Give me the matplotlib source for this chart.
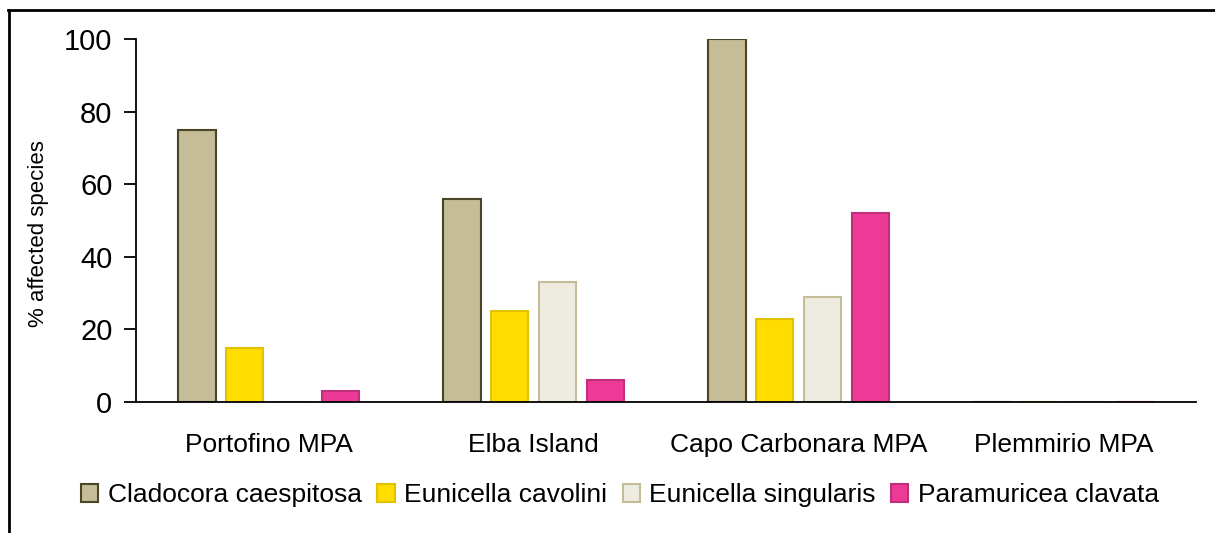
import numpy as np
import matplotlib
matplotlib.use("Agg")
import matplotlib.pyplot as plt
from matplotlib.lines import Line2D

sites = ["Portofino MPA", "Elba Island", "Capo Carbonara MPA", "Plemmirio MPA"]
species = ["Cladocora caespitosa", "Eunicella cavolini", "Eunicella singularis", "Paramuricea clavata"]
cladocora = [75, 56, 100, 0]
cavolini = [15, 25, 23, 0]
singularis = [0, 33, 29, 0]
paramuricea = [3, 6, 52, 0]

fills = ["#C4BD97", "#FFDD00", "#EEECE1", "#EC3A96"]
edges = ["#4A4526", "#E0C200", "#C4BD97", "#C0307A"]

plt.rcParams['font.family'] = ['Liberation Sans', 'DejaVu Sans']

fig = plt.figure(figsize=(12.15, 5.33), dpi=100)
W, H = 1215, 533
ax = fig.add_axes([136 / W, (H - 402) / H, (1196 - 136) / W, (402 - 39) / H])

x = np.arange(len(sites))
step = 0.181
width = 0.143
series = [cladocora, cavolini, singularis, paramuricea]
for i, vals in enumerate(series):
    ax.bar(x + (i - 1.5) * step, vals, width, color=fills[i], edgecolor=edges[i],
           linewidth=1.5, label=species[i])

ax.set_xlim(-0.5, len(sites) - 0.5)
ax.set_ylim(0, 100)
ax.set_yticks([0, 20, 40, 60, 80, 100])
ax.set_xticks(x)
ax.set_xticklabels(sites, fontsize=19)
ax.tick_params(axis='y', labelsize=21, length=9, width=1.3, direction='out', pad=8)
ax.tick_params(axis='x', length=0, pad=22)
ax.set_ylabel("% affected species", fontsize=16)
ax.yaxis.set_label_coords(-0.082, 0.465)

for s in ["top", "right"]:
    ax.spines[s].set_visible(False)
ax.spines["left"].set_linewidth(1.3)
ax.spines["bottom"].set_linewidth(1.3)

ax.legend(loc="center", bbox_to_anchor=(620 / W, (H - 495) / H), bbox_transform=fig.transFigure,
          ncol=4, frameon=False, fontsize=19, handlelength=0.65, handleheight=0.65,
          handletextpad=0.35, columnspacing=0.6, borderaxespad=0)

# outer frame (top and left only)
fig.add_artist(Line2D([9 / W, 9 / W], [0, (H - 10) / H], color="black", linewidth=2, transform=fig.transFigure))
fig.add_artist(Line2D([8 / W, 1], [(H - 10) / H, (H - 10) / H], color="black", linewidth=2, transform=fig.transFigure))

fig.savefig("out.png", dpi=100)
